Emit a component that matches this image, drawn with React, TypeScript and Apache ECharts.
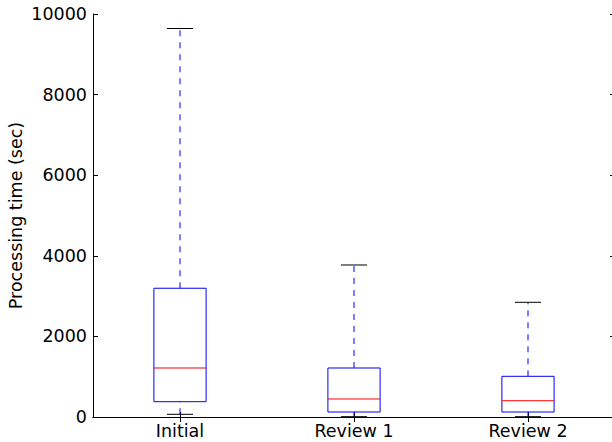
import React, { useEffect, useRef } from "react";
import * as echarts from "echarts";

const categories = ["Initial", "Review 1", "Review 2"];
const whiskerLow = [67, 8, 8];
const q1 = [380, 124, 124];
const median = [1216, 447, 404];
const q3 = [3195, 1216, 1010];
const whiskerHigh = [9640, 3772, 2846];
const yTicks = [0, 2000, 4000, 6000, 8000, 10000];

export default function App() {
  const ref = useRef<HTMLDivElement>(null);
  useEffect(() => {
    document.body.style.margin = "0";
    const chart = echarts.init(ref.current!, null, { renderer: "svg" });
    const data = categories.map((_, i) => [i, whiskerLow[i], q1[i], median[i], q3[i], whiskerHigh[i]]);
    const font = "DejaVu Sans";
    const fs = 17.5;
    chart.setOption({
      animation: false,
      backgroundColor: "#fff",
      grid: {
        show: false,
        left: 93,
        top: 14,
        width: 522,
        height: 403,
        containLabel: false,
        outerBoundsMode: "none",
      },
      xAxis: [
        {
          type: "category",
          data: categories,
          position: "bottom",
          boundaryGap: true,
          axisLine: { show: true, lineStyle: { color: "#000", width: 1 } },
          axisTick: { show: true, alignWithLabel: true, inside: true, length: 5, lineStyle: { color: "#000" } },
          axisLabel: { color: "#000", fontSize: fs, fontFamily: font, margin: 5 },
          splitLine: { show: false },
        },
        {
          type: "category",
          data: categories,
          position: "top",
          boundaryGap: true,
          axisLine: { show: true, lineStyle: { color: "#000", width: 1 } },
          axisTick: { show: true, alignWithLabel: true, inside: true, length: 5, lineStyle: { color: "#000" } },
          axisLabel: { show: false },
          splitLine: { show: false },
        },
      ],
      yAxis: [
        {
          type: "value",
          min: yTicks[0],
          max: yTicks[yTicks.length - 1],
          interval: 2000,
          position: "left",
          name: "Processing time (sec)",
          nameLocation: "middle",
          nameGap: 68,
          nameMoveOverlap: false,
          nameTextStyle: { color: "#000", fontSize: fs, fontFamily: font },
          axisLine: { show: true, lineStyle: { color: "#000", width: 1 } },
          axisTick: { show: true, inside: true, length: 5, lineStyle: { color: "#000" } },
          axisLabel: { color: "#000", fontSize: fs, fontFamily: font, margin: 6, formatter: (v: number) => String(v) },
          splitLine: { show: false },
        },
        {
          type: "value",
          min: yTicks[0],
          max: yTicks[yTicks.length - 1],
          interval: 2000,
          position: "right",
          axisLine: { show: false },
          axisTick: { show: true, inside: true, length: 5, lineStyle: { color: "#000" } },
          axisLabel: { show: false },
          splitLine: { show: false },
        },
      ],
      series: [
        {
          type: "custom",
          xAxisIndex: 0,
          yAxisIndex: 0,
          data,
          renderItem: (params: any, api: any) => {
            const i = api.value(0);
            const pLow = api.coord([i, api.value(1)]);
            const pQ1 = api.coord([i, api.value(2)]);
            const pMed = api.coord([i, api.value(3)]);
            const pQ3 = api.coord([i, api.value(4)]);
            const pHigh = api.coord([i, api.value(5)]);
            const band = api.size([1, 0])[0];
            const bw = band * 0.3;
            const cw = bw / 2;
            const cx = pMed[0];
            return {
              type: "group",
              children: [
                {
                  type: "line",
                  shape: { x1: cx, y1: pQ3[1], x2: cx, y2: pHigh[1] },
                  style: { stroke: "#0000ff", lineWidth: 1, lineDash: [6, 6] },
                },
                {
                  type: "line",
                  shape: { x1: cx, y1: pLow[1], x2: cx, y2: pQ1[1] },
                  style: { stroke: "#0000ff", lineWidth: 1, lineDash: [6, 6] },
                },
                {
                  type: "line",
                  shape: { x1: cx - cw / 2, y1: pHigh[1], x2: cx + cw / 2, y2: pHigh[1] },
                  style: { stroke: "#000", lineWidth: 1 },
                },
                {
                  type: "line",
                  shape: { x1: cx - cw / 2, y1: pLow[1], x2: cx + cw / 2, y2: pLow[1] },
                  style: { stroke: "#000", lineWidth: 1 },
                },
                {
                  type: "rect",
                  shape: { x: cx - bw / 2, y: pQ3[1], width: bw, height: pQ1[1] - pQ3[1] },
                  style: { fill: "none", stroke: "#0000ff", lineWidth: 1 },
                },
                {
                  type: "line",
                  shape: { x1: cx - bw / 2, y1: pMed[1], x2: cx + bw / 2, y2: pMed[1] },
                  style: { stroke: "#ff0000", lineWidth: 1 },
                },
              ],
            };
          },
        },
      ],
    });
    return () => chart.dispose();
  }, []);
  return <div ref={ref} style={{ position: "fixed", left: 0, top: 0, width: 612, height: 442 }} />;
}
